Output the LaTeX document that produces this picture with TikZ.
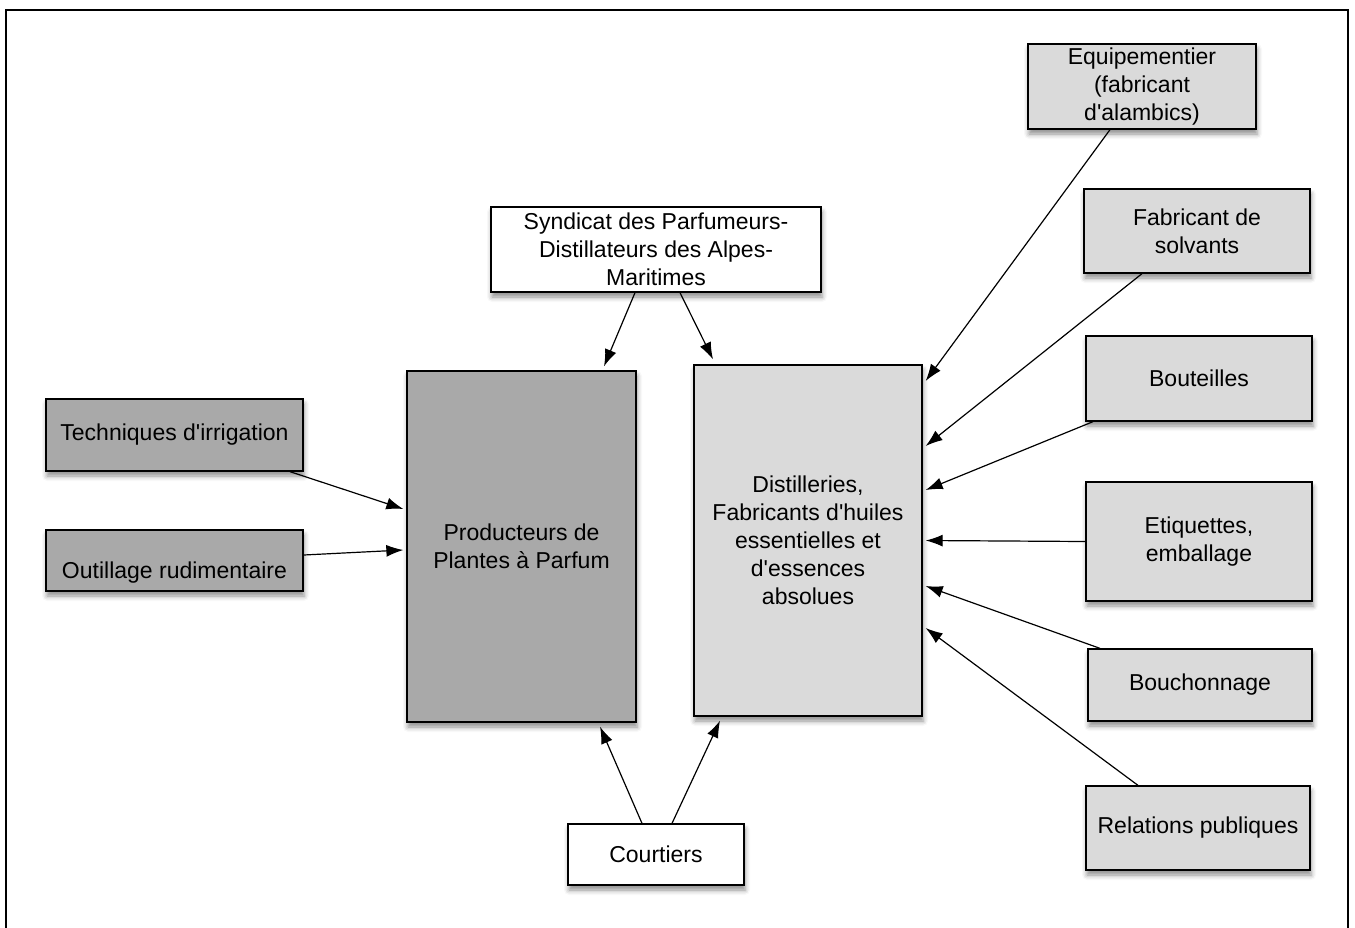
\documentclass[tikz,border=0pt]{standalone}
\usepackage{fontspec}
\setmainfont{Liberation Sans}
\usetikzlibrary{arrows.meta,shadows.blur}

\definecolor{darkfill}{HTML}{A9A9A9}
\definecolor{lightfill}{HTML}{DADADA}
\newcommand{\ap}{\textquotesingle}

\tikzset{
    box/.style={draw=black, line width=1.3pt, align=center, inner sep=3pt,
        font=\fontsize{23}{28}\selectfont,
        blur shadow={shadow xshift=1pt, shadow yshift=-5pt, shadow blur radius=5pt, shadow opacity=45}},
    whitebox/.style={box, fill=white},
    darkbox/.style={box, fill=darkfill},
    lightbox/.style={box, fill=lightfill},
    link/.style={-{Latex[length=17pt,width=12pt]}, line width=1.2pt}
}

\begin{document}
\begin{tikzpicture}[x=1pt,y=-1pt]
    \useasboundingbox (0,0) rectangle (1355,927);
    % frame
    \draw[line width=2pt] (6,930) -- (6,10) -- (1348,10) -- (1348,930);

    % centre
    \node[whitebox, minimum width=330pt, minimum height=85pt] (syn) at (656,249.5) {Syndicat des Parfumeurs-\\Distillateurs des Alpes-\\Maritimes};
    \node[darkbox, minimum width=229pt, minimum height=351pt] (prod) at (521.5,546.5) {Producteurs de\\Plantes à Parfum};
    \node[lightbox, minimum width=228pt, minimum height=351pt] (dist) at (808,540.5) {Distilleries,\\Fabricants d\ap huiles\\essentielles et\\d\ap essences\\absolues};
    \node[whitebox, minimum width=176pt, minimum height=61pt] (court) at (656,854.5) {Courtiers};

    % left
    \node[darkbox, minimum width=257pt, minimum height=72pt] (irrig) at (174.5,435) {Techniques d\ap irrigation};
    \node[darkbox, minimum width=257pt, minimum height=61pt, text height=40pt] (outil) at (174.5,560.5) {Outillage rudimentaire};

    % right
    \node[lightbox, minimum width=228pt, minimum height=85pt] (equip) at (1142,86.5) {Equipementier\\(fabricant\\d\ap alambics)};
    \node[lightbox, minimum width=226pt, minimum height=84pt] (solv) at (1197,231) {Fabricant de\\solvants};
    \node[lightbox, minimum width=226pt, minimum height=85pt] (bout) at (1199,378.5) {Bouteilles};
    \node[lightbox, minimum width=226pt, minimum height=119pt] (etiq) at (1199,541.5) {Etiquettes,\\emballage};
    \node[lightbox, minimum width=224pt, minimum height=72pt] (bouch) at (1200,685) {Bouchonnage};
    \node[lightbox, minimum width=224pt, minimum height=84pt] (relat) at (1198,828) {Relations publiques};

    % arrows
    \draw[link] ([xshift=-21pt]syn.south) -- ([xshift=82.5pt,yshift=4pt]prod.north);
    \draw[link] ([xshift=24pt]syn.south) -- ([xshift=-95pt,yshift=5pt]dist.north);
    \draw[link] ([xshift=115.5pt]irrig.south) -- ([xshift=-3pt,yshift=37.5pt]prod.west);
    \draw[link] ([yshift=5.5pt]outil.east) -- ([xshift=-3pt,yshift=-3.5pt]prod.west);
    \draw[link] ([xshift=-14pt]court.north) -- ([xshift=78.5pt,yshift=-4pt]prod.south);
    \draw[link] ([xshift=16pt]court.north) -- ([xshift=-88pt,yshift=-4pt]dist.south);

    \draw[link] ([xshift=-32pt]equip.south) -- ([xshift=3pt,yshift=159.5pt]dist.east);
    \draw[link] ([xshift=-55pt]solv.south) -- ([xshift=3pt,yshift=94.5pt]dist.east);
    \draw[link] ([xshift=-106pt]bout.south) -- ([xshift=3pt,yshift=50.5pt]dist.east);
    \draw[link] (etiq.west) -- ([xshift=3pt]dist.east);
    \draw[link] ([xshift=-100pt]bouch.north) -- ([xshift=3pt,yshift=-45.5pt]dist.east);
    \draw[link] ([xshift=-60pt]relat.north) -- ([xshift=3pt,yshift=-87.5pt]dist.east);
\end{tikzpicture}
\end{document}
